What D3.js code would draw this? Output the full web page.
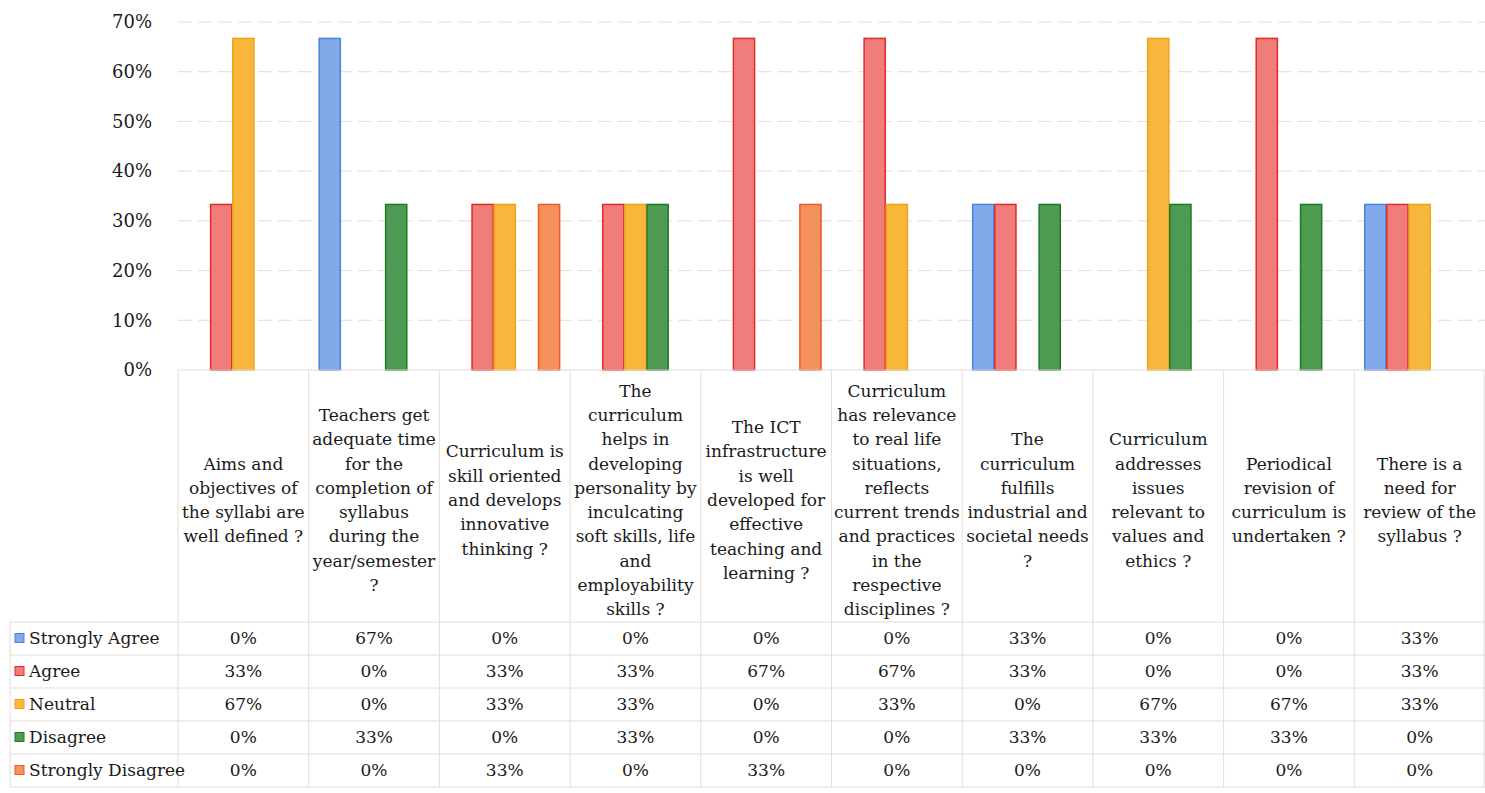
<!DOCTYPE html>
<html><head><meta charset="utf-8">
<script src="https://cdn.jsdelivr.net/npm/d3@7"></script>
<style>body{margin:0;background:#fff}svg{display:block}</style>
</head><body><svg id="c" width="1485" height="793"></svg>
<script>
const categories = [
  ["Aims and","objectives of","the syllabi are","well defined ?"],
  ["Teachers get","adequate time","for the","completion of","syllabus","during the","year/semester","?"],
  ["Curriculum is","skill oriented","and develops","innovative","thinking ?"],
  ["The","curriculum","helps in","developing","personality by","inculcating","soft skills, life","and","employability","skills ?"],
  ["The ICT","infrastructure","is well","developed for","effective","teaching and","learning ?"],
  ["Curriculum","has relevance","to real life","situations,","reflects","current trends","and practices","in the","respective","disciplines ?"],
  ["The","curriculum","fulfills","industrial and","societal needs","?"],
  ["Curriculum","addresses","issues","relevant to","values and","ethics ?"],
  ["Periodical","revision of","curriculum is","undertaken ?"],
  ["There is a","need for","review of the","syllabus ?"]
];
const seriesNames = ["Strongly Agree","Agree","Neutral","Disagree","Strongly Disagree"];
// bar heights as drawn (percent)
const stronglyAgree    = [0, 66.7, 0, 0, 0, 0, 33.3, 0, 0, 33.3];
const agree            = [33.3, 0, 33.3, 33.3, 66.7, 66.7, 33.3, 0, 66.7, 33.3];
const neutral          = [66.7, 0, 33.3, 33.3, 0, 33.3, 0, 66.7, 0, 33.3];
const disagree         = [0, 33.3, 0, 33.3, 0, 0, 33.3, 33.3, 33.3, 0];
const stronglyDisagree = [0, 0, 33.3, 0, 33.3, 0, 0, 0, 0, 0];
// data table text as printed
const tableStronglyAgree    = ["0%","67%","0%","0%","0%","0%","33%","0%","0%","33%"];
const tableAgree            = ["33%","0%","33%","33%","67%","67%","33%","0%","0%","33%"];
const tableNeutral          = ["67%","0%","33%","33%","0%","33%","0%","67%","67%","33%"];
const tableDisagree         = ["0%","33%","0%","33%","0%","0%","33%","33%","33%","0%"];
const tableStronglyDisagree = ["0%","0%","33%","0%","33%","0%","0%","0%","0%","0%"];
const yTicks = [0,10,20,30,40,50,60,70];

const series = [stronglyAgree, agree, neutral, disagree, stronglyDisagree];
const tables = [tableStronglyAgree, tableAgree, tableNeutral, tableDisagree, tableStronglyDisagree];
const fills   = ["#82aaea","#ee7d7b","#f7b63c","#4f9a52","#f5915c"];
const strokes = ["#4a83e0","#e32b26","#efa31a","#1e7a25","#ef5a22"];
const FONT = "DejaVu Serif";
const FS = "17px", INK = "#1a1a1a";

const svg = d3.select("#c");
const plotLeft = 178, plotRight = 1485, plotTop = 22, plotBase = 370;
const tableTop = 622, rowH = 33;

const y = d3.scaleLinear().domain([0,70]).range([plotBase, plotTop]);
const x0 = d3.scaleBand().domain(d3.range(categories.length)).range([plotLeft, plotRight]);
const x1 = d3.scaleBand().domain(d3.range(5)).range([0, x0.bandwidth()]).paddingOuter(0.45);

// gridlines
svg.append("g").selectAll("line").data(yTicks.filter(d=>d>0)).join("line")
  .attr("x1", plotLeft).attr("x2", plotRight).attr("y1", d=>y(d)).attr("y2", d=>y(d))
  .attr("stroke", "#ecd9dc").attr("stroke-width", 1).attr("stroke-dasharray","14,6");

// y axis labels
const yAxis = d3.axisLeft(y).tickValues(yTicks).tickFormat(d=>d+"%").tickSize(0).tickPadding(0);
const ya = svg.append("g").attr("transform", "translate(152,0)").call(yAxis)
  .attr("font-family", FONT).attr("font-size", "18px");
ya.select(".domain").remove();
ya.selectAll("text").attr("fill", INK);

// bars
series.forEach((vals, s) => {
  svg.append("g").selectAll("rect").data(vals.map((v,i)=>({v,i})).filter(d=>d.v>0)).join("rect")
    .attr("x", d => x0(d.i) + x1(s) + 0.5)
    .attr("width", x1.bandwidth() - 1)
    .attr("y", d => y(d.v))
    .attr("height", d => plotBase - y(d.v))
    .attr("fill", fills[s]).attr("stroke", strokes[s]).attr("stroke-width", 1.5);
});

// table lines
const grid = svg.append("g").attr("stroke", "#e6dcdc").attr("stroke-width", 1);
grid.append("line").attr("x1", plotLeft).attr("x2", plotRight).attr("y1", plotBase).attr("y2", plotBase);
d3.range(categories.length + 1).forEach(i => {
  const xx = i < categories.length ? x0(i) : plotRight - 1;
  grid.append("line").attr("x1", xx).attr("x2", xx).attr("y1", plotBase).attr("y2", tableTop + rowH*5);
});
d3.range(6).forEach(r => {
  grid.append("line").attr("x1", 10).attr("x2", plotRight).attr("y1", tableTop + r*rowH).attr("y2", tableTop + r*rowH);
});
grid.append("line").attr("x1", 10).attr("x2", 10).attr("y1", tableTop).attr("y2", tableTop + rowH*5);

const txt = svg.append("g").attr("font-family", FONT).attr("font-size", FS).attr("fill", INK);

// header text
const lh = 24.3, hc = 500;
categories.forEach((lines, i) => {
  const t = txt.append("text").attr("text-anchor","middle");
  const y0 = hc - (lines.length - 1) * lh / 2;
  lines.forEach((ln, k) => {
    t.append("tspan").attr("x", x0(i) + x0.bandwidth()/2).attr("y", y0 + k*lh).attr("dy","0.35em").text(ln);
  });
});

// legend & values
seriesNames.forEach((name, s) => {
  const cy = tableTop + s*rowH + rowH/2;
  svg.append("rect").attr("x", 15).attr("y", cy - 5).attr("width", 9).attr("height", 9)
    .attr("fill", fills[s]).attr("stroke", strokes[s]).attr("stroke-width", 1);
  txt.append("text").attr("x", 29).attr("y", cy).attr("dy","0.35em").text(name);
  tables[s].forEach((tx, i) => {
    txt.append("text").attr("x", x0(i) + x0.bandwidth()/2).attr("y", cy).attr("dy","0.35em")
      .attr("text-anchor","middle").text(tx);
  });
});
</script></body></html>
